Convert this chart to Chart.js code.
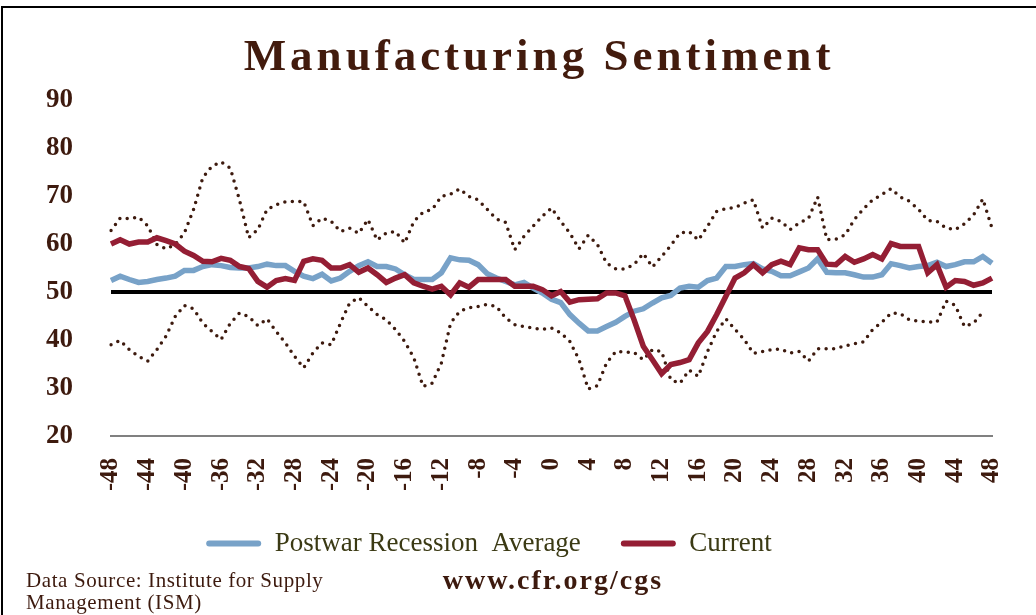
<!DOCTYPE html>
<html>
<head>
<meta charset="utf-8">
<title>Manufacturing Sentiment</title>
<script src="https://cdn.jsdelivr.net/npm/chart.js@4.4.1/dist/chart.umd.min.js"></script>
<style>
  html, body { margin: 0; padding: 0; width: 1036px; height: 615px; overflow: hidden; background: #fff; }
  #frame { position: absolute; left: 1px; top: 6px; width: 1100px; height: 700px; border: 2px solid #000; box-sizing: border-box; }
  #chart { position: absolute; left: 0; top: 0; }
  #title { position: absolute; left: 21px; top: 33px; width: 1036px; text-align: center;
    font: bold 45px/45px "Liberation Serif", serif; letter-spacing: 4px; color: #421b0d; }
  #source { position: absolute; left: 26px; top: 569px; font: 21px/22px "Liberation Serif", serif; letter-spacing: 0.6px; color: #3d1a0e; }
  #site { position: absolute; left: 0; width: 1106px; top: 566px; text-align: center;
    font: bold 28px/28px "Liberation Serif", serif; letter-spacing: 2px; color: #3d1a0e; }
</style>
</head>
<body>
<div id="frame"></div>
<canvas id="chart" width="1036" height="615"></canvas>
<div id="title">Manufacturing Sentiment</div>
<div id="source">Data Source: Institute for Supply<br>Management (ISM)</div>
<div id="site">www.cfr.org/cgs</div>
<script>
// months relative to the start of the recession
var months = [-48,-47,-46,-45,-44,-43,-42,-41,-40,-39,-38,-37,-36,-35,-34,-33,-32,-31,-30,-29,
  -28,-27,-26,-25,-24,-23,-22,-21,-20,-19,-18,-17,-16,-15,-14,-13,-12,-11,-10,-9,
  -8,-7,-6,-5,-4,-3,-2,-1,0,1,2,3,4,5,6,7,8,9,10,11,
  12,13,14,15,16,17,18,19,20,21,22,23,24,25,26,27,28,29,30,31,
  32,33,34,35,36,37,38,39,40,41,42,43,44,45,46,47,48];

var postwarAvg = [52.4,53.3,52.6,52.0,52.2,52.6,52.9,53.3,54.5,54.5,55.3,55.7,55.5,55.1,55.0,55.0,55.3,55.8,55.5,55.5,
  54.3,53.3,52.8,53.7,52.3,52.9,54.3,55.5,56.3,55.3,55.3,54.8,53.6,52.6,52.6,52.6,54.0,57.1,56.7,56.6,
  55.7,53.8,52.9,52.2,51.5,52.0,50.8,49.8,48.5,47.8,45.3,43.5,41.9,41.9,42.8,43.7,44.9,46.0,46.5,47.7,
  48.8,49.3,50.8,51.2,51.0,52.4,52.9,55.3,55.3,55.7,55.9,54.8,54.3,53.4,53.4,54.2,55.0,56.9,54.1,54.0,
  54.0,53.6,53.1,53.1,53.6,55.9,55.5,55.0,55.3,55.5,56.2,55.3,55.7,56.3,56.3,57.4,56.0];

var current = [60.0,60.9,60.0,60.4,60.4,61.3,60.7,60.0,58.5,57.6,56.4,56.3,57.0,56.6,55.3,54.9,52.2,51.0,52.4,52.8,
  52.4,56.4,56.9,56.6,55.0,55.0,55.7,54.1,55.0,53.6,52.0,52.9,53.6,51.9,51.2,50.6,51.2,49.4,51.9,51.0,
  52.6,52.6,52.6,52.6,51.2,51.2,51.2,50.5,49.2,50.1,47.9,48.4,48.5,48.6,49.8,49.8,49.2,44.2,38.7,35.9,
  33.0,34.9,35.3,35.9,39.4,41.8,45.3,49.1,52.9,54.0,55.7,54.0,55.7,56.4,55.7,59.2,58.8,58.8,55.8,55.7,
  57.4,56.2,56.9,57.8,56.9,60.1,59.5,59.5,59.5,54.0,55.7,51.0,52.4,52.2,51.4,51.9,52.9];

var highest = [62.8,65.4,65.3,65.6,63.8,59.9,59.0,59.9,62.3,67.2,73.8,76.2,77.1,75.8,69.2,61.3,63.0,67.2,68.2,68.8,
  68.9,68.8,63.8,65.4,64.7,62.6,63.3,62.2,65.1,60.8,62.3,62.6,60.2,64.7,66.6,67.2,69.9,70.4,71.5,69.9,
  69.2,67.2,65.2,64.5,58.8,61.6,63.7,65.8,67.5,64.7,62.3,59.0,61.8,59.9,56.0,54.8,54.8,55.7,58.0,55.2,
  57.4,59.7,62.3,62.6,60.8,63.7,66.8,67.4,67.6,68.5,69.2,63.3,65.4,64.7,63.0,64.4,65.3,69.8,60.9,61.0,
  61.9,65.1,67.3,69.2,70.3,71.5,69.8,68.9,67.2,64.9,64.7,63.3,63.0,64.2,66.1,69.4,63.3];

var lowest = [39.0,39.9,38.0,36.6,35.6,38.0,40.8,44.9,47.2,46.5,43.5,41.8,40.1,43.5,45.6,44.9,43.0,44.4,41.8,39.4,
  36.6,34.2,37.3,39.4,39.0,43.5,47.7,48.8,47.0,45.3,44.2,42.2,39.7,36.3,30.3,31.0,35.2,43.5,46.0,46.7,
  47.0,47.4,47.0,44.6,43.2,42.8,42.5,42.2,42.5,41.5,39.7,35.9,29.8,30.5,35.2,37.6,37.5,37.4,35.9,38.0,
  37.6,31.7,31.0,33.7,32.4,37.6,41.8,44.4,42.2,40.1,37.2,37.6,38.0,38.1,37.3,37.6,35.6,38.2,38.2,38.2,
  38.8,39.2,39.6,42.2,43.7,45.6,45.5,44.2,43.9,43.8,43.7,48.1,47.2,42.8,43.5,45.8,null];

var yTicks = [20, 30, 40, 50, 60, 70, 80, 90];
var threshold = 50;

var brown = '#3d1a0e';

// the legend sits a little left of centre in the original
var legendShift = {
  id: 'legendShift',
  afterLayout: function (chart) {
    chart.legend.left -= 30;
    chart.legend.right -= 30;
  }
};

new Chart(document.getElementById('chart').getContext('2d'), {
  type: 'line',
  data: {
    labels: months,
    datasets: [
      { label: 'Postwar Recession  Average', data: postwarAvg, borderColor: '#78a2c8', backgroundColor: '#78a2c8',
        borderWidth: 5.5, pointRadius: 0, tension: 0, order: 1 },
      { label: 'Current', data: current, borderColor: '#941e34', backgroundColor: '#941e34',
        borderWidth: 5.5, pointRadius: 0, tension: 0, order: 0 },
      { label: 'Fifty', data: months.map(function () { return threshold; }), borderColor: '#000',
        borderWidth: 4, pointRadius: 0, order: 2 },
      { label: 'High', data: highest, borderColor: brown, borderWidth: 3.5, borderDash: [0, 7.5],
        borderCapStyle: 'round', pointRadius: 0, order: 3 },
      { label: 'Low', data: lowest, borderColor: brown, borderWidth: 3.5, borderDash: [0, 7.5],
        borderCapStyle: 'round', pointRadius: 0, order: 3 }
    ]
  },
  plugins: [legendShift],
  options: {
    responsive: false,
    animation: false,
    layout: { autoPadding: false, padding: { left: 46, right: 44, top: 100, bottom: 48 } },
    plugins: {
      tooltip: { enabled: false },
      legend: {
        position: 'bottom',
        labels: {
          boxWidth: 55,
          boxHeight: 6,
          padding: 40,
          color: '#3b3a14',
          font: { family: 'Liberation Serif', size: 27 },
          generateLabels: function (chart) {
            var items = Chart.defaults.plugins.legend.labels.generateLabels(chart);
            items.forEach(function (it) {
              it.fillStyle = it.strokeStyle;
              it.lineWidth = 0;
              it.borderRadius = 3;
            });
            return items;
          },
          filter: function (item) { return item.datasetIndex < 2; },
          sort: function (a, b) { return a.datasetIndex - b.datasetIndex; }
        }
      }
    },
    scales: {
      x: {
        grid: { display: false, drawTicks: false },
        border: { color: '#808080', width: 2 },
        afterFit: function (s) {
          s.height = 54;
          // rotated labels make the scale reserve room on the right; the original doesn't
          s.paddingLeft = 0;
          s.paddingRight = 0;
        },
        ticks: {
          autoSkip: false, minRotation: 90, maxRotation: 90, padding: 22, color: brown,
          font: { family: 'Liberation Serif', size: 25, weight: 'bold' },
          callback: function (v, i) { return months[i] % 4 === 0 ? String(months[i]) : ''; }
        }
      },
      y: {
        min: 20, max: 90,
        afterFit: function (s) { s.width = 65; },
        afterBuildTicks: function (s) { s.ticks = yTicks.map(function (v) { return { value: v }; }); },
        grid: { display: false, drawTicks: false },
        border: { display: false },
        ticks: {
          crossAlign: 'far', padding: 0, color: brown,
          font: { family: 'Liberation Serif', size: 27, weight: 'bold' }
        }
      }
    }
  }
});
</script>
</body>
</html>
